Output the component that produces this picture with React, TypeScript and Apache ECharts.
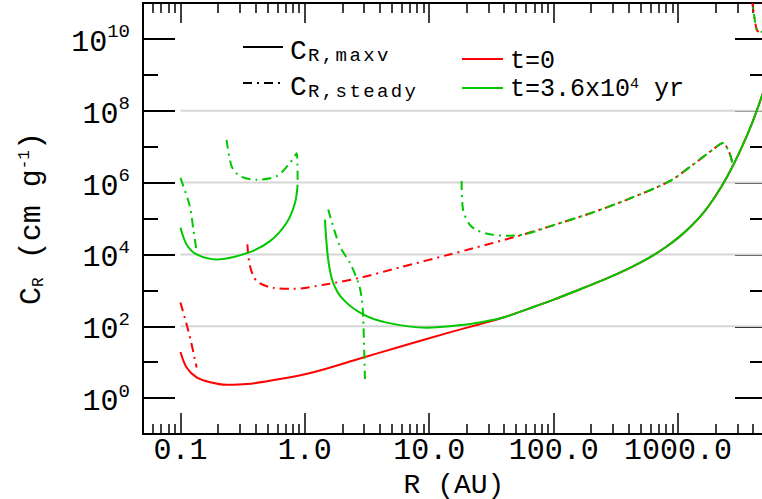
import React, { useEffect, useRef } from "react";
import * as echarts from "echarts";

const FONT = "'Liberation Mono', 'DejaVu Sans Mono', monospace";
const RED = "#ff0000";
const GREEN = "#00c800";
const DASHDOT = [9, 5, 2, 5];

// axis ranges and ticks
const X_MIN = 0.05;
const X_MAX = 5000;
const Y_MIN = 0.1;
const Y_MAX = 1e11;
const xMajorTicks = [0.1, 1, 10, 100, 1000];
const xTickLabels = ["0.1", "1.0", "10.0", "100.0", "1000.0"];
const xMinorTicks = [
  0.06, 0.07, 0.08, 0.09, 0.2, 0.3, 0.4, 0.5, 0.6, 0.7, 0.8, 0.9, 2, 3, 4, 5, 6, 7, 8, 9,
  20, 30, 40, 50, 60, 70, 80, 90, 200, 300, 400, 500, 600, 700, 800, 900, 2000, 3000, 4000,
];
const yMajorTicks = [1, 1e2, 1e4, 1e6, 1e8, 1e10];
const yMinorTicks = [1e1, 1e3, 1e5, 1e7, 1e9];
const gridLevels = [1e2, 1e4, 1e6, 1e8];

// C_R,maxv at t=0 (red solid)
const maxvT0R = [0.1, 0.112, 0.135, 0.173, 0.235, 0.341, 0.631, 1.17, 2.77, 5.81, 14.6, 25, 40, 63, 100, 158, 251, 355, 501, 631, 794, 1000, 1259, 1585, 1995, 2512, 3162, 3981, 5000];
const maxvT0C = [19.1, 7.08, 3.76, 2.75, 2.34, 2.45, 3.39, 5.25, 12.6, 27, 67.6, 112, 178, 309, 550, 1023, 1950, 3311, 6026, 9441, 15849, 28840, 58884, 138038, 416869, 1.585e6, 7.76e6, 5.01e7, 4.57e8];

// C_R,maxv at t=3.6e4 yr (green solid), two pieces
const maxvT1aR = [0.1, 0.112, 0.135, 0.196, 0.351, 0.525, 0.714, 0.833, 0.875];
const maxvT1aC = [5.5e4, 1.9e4, 1.0e4, 7.24e3, 1.12e4, 2.34e4, 7.59e4, 2.69e5, 8.7e5];
const maxvT1bR = [1.45, 1.54, 1.69, 2.03, 2.94, 4.54, 9.5, 19.9, 28, 40, 63, 100, 158, 251, 355, 501, 631, 794, 1000, 1259, 1585, 1995, 2512, 3162, 3981, 5000];
const maxvT1bC = [9.3e4, 7244, 1622, 562, 214, 126, 91, 112, 135, 178, 309, 550, 1023, 1950, 3311, 6026, 9441, 15849, 28840, 58884, 138038, 416869, 1.585e6, 7.76e6, 5.01e7, 4.57e8];

// C_R,steady at t=0 (red dash-dot)
const steadyT0aR = [0.1, 0.118, 0.135];
const steadyT0aC = [457, 57.5, 7.08];
const steadyT0bR = [0.345, 0.362, 0.41, 0.557, 0.807, 1.5, 2.77, 5.81, 14.6, 22.5, 50.2, 93, 195, 385, 857, 1318, 1905, 2296, 2594, 2728];
const steadyT0bC = [1.9e4, 4.79e3, 1.82e3, 1.17e3, 1.1e3, 1.48e3, 2239, 4365, 1e4, 14791, 31623, 60256, 138038, 331131, 1.1e6, 3.16e6, 8.3e6, 1.26e7, 6.6e6, 3.55e6];
const steadyT0cR = [3950, 4050, 4150, 4300, 4500, 5000];
const steadyT0cC = [1e11, 5.6e10, 3.16e10, 1.78e10, 1.58e10, 1.58e10];

// C_R,steady at t=3.6e4 yr (green dash-dot)
const steadyT1aR = [0.1, 0.119, 0.127, 0.135];
const steadyT1aC = [1.35e6, 2.19e5, 4.9e4, 1.23e4];
const steadyT1bR = [0.235, 0.258, 0.301, 0.41, 0.594, 0.76, 0.86, 0.875];
const steadyT1bC = [1.55e7, 2.82e6, 1.51e6, 1.2e6, 1.51e6, 3.55e6, 6.6e6, 8.7e5];
const steadyT1cR = [1.54, 1.91, 2.3, 2.69, 2.85, 2.94, 3.04];
const steadyT1cC = [1.78e5, 1.7e4, 5.9e3, 1.62e3, 692, 195, 3.39];
const steadyT1dR = [18.2, 18.7, 21.1, 24, 30.5, 41.8, 60, 93, 195, 385, 857, 1318, 1905, 2296, 2594, 2728];
const steadyT1dC = [1.1e6, 1.78e5, 6.76e4, 4.79e4, 3.63e4, 3.31e4, 37154, 60256, 138038, 331131, 1.1e6, 3.16e6, 8.3e6, 1.26e7, 6.6e6, 3.55e6];
const steadyT1eR = [3950, 4050, 4150, 4300, 4500, 5000];
const steadyT1eC = [1e11, 5.6e10, 3.16e10, 1.78e10, 1.58e10, 1.58e10];

const pair = (r: number[], c: number[]) => r.map((v, i) => [v, c[i]]);

const curve = (r: number[], c: number[], color: string, dashed: boolean, smooth = 0.3, dashOffset = 0) => ({
  type: "line",
  data: pair(r, c),
  showSymbol: false,
  symbol: "none",
  silent: true,
  smooth,
  z: 3,
  lineStyle: { color, width: 2, type: dashed ? DASHDOT : "solid", dashOffset },
});

const xAx = (position: string, ticks: number[], len: number, withLabels: boolean) => ({
  type: "log",
  logBase: 10,
  min: X_MIN,
  max: X_MAX,
  position,
  gridIndex: 0,
  axisLine: { show: true, onZero: false, lineStyle: { color: "#000", width: 2 } },
  axisTick: { show: true, inside: true, length: len, customValues: ticks, lineStyle: { color: "#000", width: 1.5 } },
  axisLabel: withLabels
    ? {
        show: true,
        customValues: xMajorTicks,
        margin: 7,
        color: "#000",
        fontFamily: FONT,
        fontSize: 30,
        lineHeight: 20,
        formatter: (v: number) => {
          const i = xMajorTicks.findIndex((t) => Math.abs(Math.log10(t) - Math.log10(v)) < 1e-6);
          return i >= 0 ? xTickLabels[i] : "";
        },
      }
    : { show: false },
  splitLine: { show: false },
  minorTick: { show: false },
  minorSplitLine: { show: false },
  ...(withLabels
    ? {
        name: "R (AU)",
        nameLocation: "middle",
        nameGap: 41,
        nameMoveOverlap: false,
        nameTextStyle: { color: "#000", fontFamily: FONT, fontSize: 28, lineHeight: 20 },
      }
    : {}),
});

const yAx = (position: string, ticks: number[], len: number, withLabels: boolean) => ({
  type: "log",
  logBase: 10,
  min: Y_MIN,
  max: Y_MAX,
  position,
  gridIndex: 0,
  axisLine: { show: true, onZero: false, lineStyle: { color: "#000", width: 2 } },
  axisTick: { show: true, inside: true, length: len, customValues: ticks, lineStyle: { color: "#000", width: 2 } },
  axisLabel: withLabels
    ? {
        show: true,
        customValues: yMajorTicks,
        margin: 13,
        padding: [8, 0, 0, 0],
        formatter: (v: number) => `{b|10}{s|${Math.round(Math.log10(v))}}`,
        rich: {
          b: { fontFamily: FONT, fontSize: 30, lineHeight: 40, color: "#000" },
          s: { fontFamily: FONT, fontSize: 19, lineHeight: 19, verticalAlign: "top", color: "#000" },
        },
      }
    : { show: false },
  splitLine: { show: false },
  minorTick: { show: false },
  minorSplitLine: { show: false },
  ...(withLabels
    ? {
        name: "{b|C}{r|R}{b| (cm g}{e|-1}{b|)}",
        nameLocation: "middle",
        nameGap: 96,
        nameMoveOverlap: false,
        nameTextStyle: {
          color: "#000",
          fontFamily: FONT,
          fontSize: 30,
          rich: {
            b: { fontFamily: FONT, fontSize: 30, lineHeight: 30, color: "#000" },
            r: { fontFamily: FONT, fontSize: 16, lineHeight: 16, verticalAlign: "bottom", color: "#000" },
            e: { fontFamily: FONT, fontSize: 16, lineHeight: 16, verticalAlign: "top", color: "#000" },
          },
        },
      }
    : {}),
});

const spaced = (s: string, tag: string) => s.split("").map((ch) => `{${tag}|${ch}}`).join("");

export default function App() {
  const ref = useRef<HTMLDivElement>(null);
  useEffect(() => {
    if (!ref.current) return;
    const chart = echarts.init(ref.current, undefined, { renderer: "svg" });
    const gridSeries = gridLevels.map((lvl) => ({
      type: "line",
      data: [[0.1, lvl], [X_MAX, lvl]],
      showSymbol: false,
      symbol: "none",
      silent: true,
      z: 1,
      lineStyle: { color: "#d6d6d6", width: 2 },
    }));
    const legendRich = {
      c: { fontFamily: FONT, fontSize: 28, lineHeight: 28, fill: "#000" },
      s: { fontFamily: FONT, fontSize: 19, lineHeight: 18, verticalAlign: "bottom", padding: [0, 1.2, 0, 1.2], fill: "#000" },
      m: { fontFamily: FONT, fontSize: 25, lineHeight: 25, fill: "#000" },
      p: { fontFamily: FONT, fontSize: 15, lineHeight: 15, verticalAlign: "top", fill: "#000" },
    };
    chart.setOption({
      animation: false,
      backgroundColor: "#fff",
      grid: { left: 143, right: 15, top: 3, bottom: 65, containLabel: false, outerBoundsMode: "none" },
      xAxis: [
        xAx("bottom", xMajorTicks, 21, true),
        xAx("bottom", xMinorTicks, 10, false),
        xAx("top", xMajorTicks, 20, false),
        xAx("top", xMinorTicks, 10, false),
      ],
      yAxis: [
        yAx("left", yMajorTicks, 32, true),
        yAx("left", yMinorTicks, 15, false),
        yAx("right", yMajorTicks, 30, false),
        yAx("right", yMinorTicks, 15, false),
      ],
      series: [
        ...gridSeries,
        curve(maxvT0R, maxvT0C, RED, false),
        curve(steadyT0aR, steadyT0aC, RED, true),
        curve(steadyT0bR, steadyT0bC, RED, true),
        curve(steadyT0cR, steadyT0cC, RED, true),
        curve(maxvT1aR, maxvT1aC, GREEN, false),
        curve(maxvT1bR, maxvT1bC, GREEN, false),
        curve(steadyT1aR, steadyT1aC, GREEN, true),
        curve(steadyT1bR, steadyT1bC, GREEN, true),
        curve(steadyT1cR, steadyT1cC, GREEN, true),
        curve(steadyT1dR, steadyT1dC, GREEN, true),
        curve(steadyT1eR, steadyT1eC, GREEN, true, 0.3, 10),
      ],
      graphic: [
        { type: "line", shape: { x1: 243, y1: 47, x2: 283, y2: 47 }, style: { stroke: "#000", lineWidth: 2 } },
        { type: "text", x: 290, y: 51, style: { text: "{c|C}" + spaced("R,maxv", "s"), rich: legendRich, verticalAlign: "middle" } },
        { type: "line", shape: { x1: 243, y1: 83, x2: 283, y2: 83 }, style: { stroke: "#000", lineWidth: 2, lineDash: DASHDOT } },
        { type: "text", x: 290, y: 87, style: { text: "{c|C}" + spaced("R,steady", "s"), rich: legendRich, verticalAlign: "middle" } },
        { type: "line", shape: { x1: 462, y1: 59, x2: 503, y2: 59 }, style: { stroke: RED, lineWidth: 2 } },
        { type: "text", x: 510, y: 61, style: { text: "{m|t=0}", rich: legendRich, verticalAlign: "middle" } },
        { type: "line", shape: { x1: 462, y1: 88, x2: 503, y2: 88 }, style: { stroke: GREEN, lineWidth: 2 } },
        { type: "text", x: 510, y: 89, style: { text: "{m|t=3.6x10}{p|4}{m| yr}", rich: legendRich, verticalAlign: "middle" } },
      ],
    });
    return () => chart.dispose();
  }, []);
  return (
    <div style={{ position: "fixed", left: 0, top: 0, width: 762, height: 499, overflow: "hidden", background: "#fff" }}>
      <div ref={ref} style={{ width: 780, height: 499 }} />
    </div>
  );
}
